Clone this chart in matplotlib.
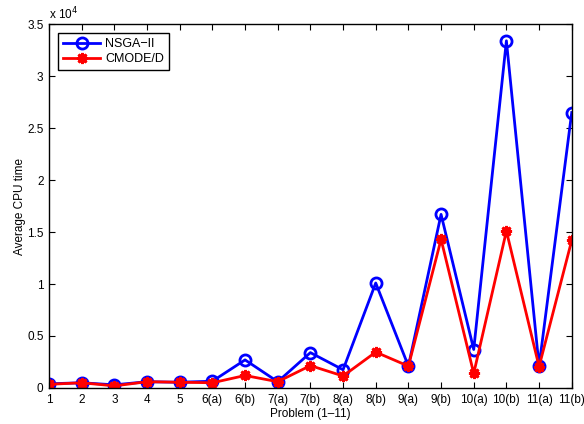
import matplotlib
matplotlib.use('Agg')
import matplotlib.pyplot as plt
from matplotlib.ticker import FuncFormatter, MultipleLocator

plt.rcParams['font.family'] = 'Liberation Sans'
plt.rcParams['font.size'] = 8.5

problems = ['1', '2', '3', '4', '5', '6(a)', '6(b)', '7(a)', '7(b)', '8(a)', '8(b)',
            '9(a)', '9(b)', '10(a)', '10(b)', '11(a)', '11(b)']
nsga = [400, 500, 300, 600, 550, 650, 2700, 600, 3400, 1750, 10100,
        2100, 16700, 3700, 33400, 2100, 26500]
cmode = [350, 500, 200, 600, 550, 500, 1200, 600, 2150, 1150, 3450,
         2100, 14300, 1400, 15100, 2050, 14200]

x = list(range(1, len(problems) + 1))

fig = plt.figure(figsize=(5.84, 4.24), dpi=100)
ax = fig.add_axes([0.084, 0.085, 0.895, 0.858])

ax.plot(x, nsga, '-o', c='b', lw=2, ms=8, mfc='none', mew=2, label='NSGA\u2212II')
# matlab-ish asterisk marker
ax.plot(x, cmode, '-', c='r', lw=2, marker=(8, 2, 0), ms=8, mew=2, label='CMODE/D')

ax.set_xlim(1, 17)
ax.set_ylim(0, 35000)
ax.set_xticks(x)
ax.set_xticklabels(problems)
ax.yaxis.set_major_locator(MultipleLocator(5000))
ax.yaxis.set_major_formatter(FuncFormatter(lambda v, pos: '%g' % (v / 1e4)))
ax.tick_params(direction='in', top=True, right=True, length=4, width=0.8, pad=4)
for s in ax.spines.values():
    s.set_linewidth(1)

ax.text(0, 1.005, r'x 10$^4$', transform=ax.transAxes, ha='left', va='bottom', fontsize=8.5)
ax.set_xlabel('Problem (1\u201311)', labelpad=2)
ax.set_ylabel('Average CPU time', labelpad=0.5)

leg = ax.legend(loc='upper left', fancybox=False, edgecolor='k', framealpha=1,
                handlelength=3.0, handletextpad=0.4, labelspacing=0.25,
                borderpad=0.4, borderaxespad=0.7, fontsize=9)
leg.get_frame().set_linewidth(1)

fig.savefig('out.png', dpi=100)
